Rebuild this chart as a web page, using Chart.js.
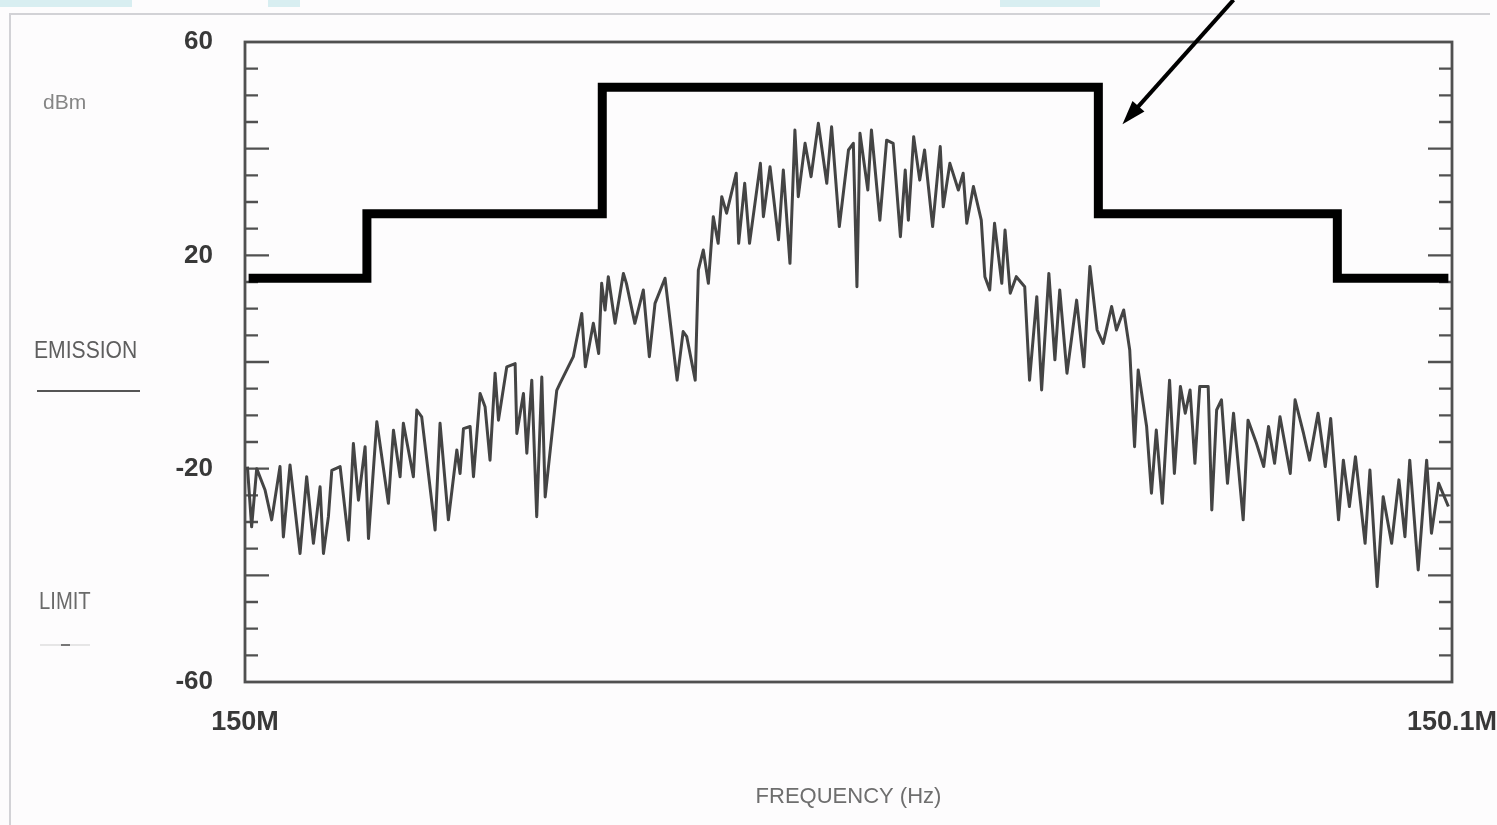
<!DOCTYPE html>
<html>
<head>
<meta charset="utf-8">
<script src="https://cdn.jsdelivr.net/npm/chart.js@4.4.1/dist/chart.umd.min.js"></script>
<style>
    html, body { margin: 0; padding: 0; background: #fdfcfd; }
    #wrap { width: 1497px; height: 825px; }
</style>
</head>
<body>
<div id="wrap"><canvas id="chartEmision" width="1497" height="825" style="width:1497px;height:825px"></canvas></div>
<script>
// ============================================
// Espectro de emision vs. mascara limite
// ============================================

// Frecuencia en kHz por encima de 150 MHz, nivel en dBm
const emisionFreq = [
    0.2, 0.55, 0.97, 1.66, 2.21, 2.9, 3.18, 3.73, 4.56, 5.11, 5.67, 6.22, 6.5, 6.91, 7.19, 7.88,
    8.57, 8.98, 9.4, 9.95, 10.23, 10.92, 11.88, 12.3, 12.85, 13.12, 13.95, 14.23, 14.64, 15.75,
    16.16, 16.85, 17.55, 17.82, 18.1, 18.65, 18.93, 19.48, 19.89, 20.3, 20.72, 21, 21.69, 22.38,
    22.52, 23.07, 23.35, 23.76, 24.17, 24.59, 24.87, 25.41, 25.83,
    26.1, 27.2, 27.9, 28.2, 28.86, 29.3, 29.55, 29.83, 30.1, 30.66, 31.35, 31.6, 32.3, 33, 33.5,
    33.97, 34.8, 35.8, 36.3, 36.6, 37.3, 37.56, 37.97, 38.39, 38.8, 39.2, 39.5, 39.9, 40.7, 40.9,
    41.4, 41.8, 42.7, 42.95, 43.5, 44.2,
    44.6, 45.15, 45.56, 45.84, 46.4, 46.9, 47.5, 48.2, 48.6, 49.24, 50, 50.4, 50.7, 50.95, 51.6,
    51.9, 52.6, 53.16, 53.7, 54.3, 54.7, 54.96, 55.4, 55.9, 56.3, 56.97, 57.6, 57.85, 58.4, 59.1, 59.5,
    59.8, 60.35, 61, 61.3, 61.7, 62.1, 62.7, 62.97, 63.4, 63.9, 64.6, 65, 65.6, 66, 66.6, 67.1,
    67.5, 68.1, 68.9, 69.5, 70, 70.6, 71.1, 71.8, 72.2, 72.8, 73.3,
    73.7, 74, 74.7, 75.1, 75.5, 76, 76.6, 77, 77.5, 77.9, 78.3, 78.7, 79.1, 79.8, 80.1, 80.5, 80.9,
    81.4, 81.9, 82.7, 83.1, 83.8, 84.4, 84.8, 85.3, 85.75, 86.6, 87, 87.7, 88.2, 88.9, 89.5, 89.95,
    90.6, 91, 91.5, 92, 92.8, 93.2, 93.8, 94.3, 95, 95.6, 96.1, 96.5, 97.2, 97.9, 98.3, 98.9, 99.7
];
const emisionNivel = [
    -19.6, -30.9, -20, -24, -29.6, -19.6, -32.8, -19.3, -35.9, -21.5, -34, -23.4, -35.9, -29, -20.3, -19.6,
    -33.4, -15.3, -25.9, -15.9, -33.1, -11.2, -26.5, -12.8, -21.5, -11.5, -21.5, -9, -10.3, -31.5,
    -11.5, -29.6, -16.5, -20.9, -12.5, -12.1, -21.5, -5.9, -8.4, -18.4, -2.1, -10.9, -0.9, -0.3,
    -13.4, -5.9, -17.1, -3.4, -29, -2.8, -25.3, -14, -5.3,
    -4, 1, 9.1, -0.9, 7.25, 1.6, 14.75, 9.75, 16, 7.25, 16.6, 14.75, 7.25, 13.5, 1,
    11, 15.7, -3.4, 5.7, 4.75, -3.4, 17.25, 21, 14.75, 27.25, 22.25, 31, 27.9, 35.4, 22.25,
    33.5, 22.25, 37.25, 27.25, 36.6, 22.9,
    36, 18.5, 43.5, 31, 41, 34.75, 44.75, 33.5, 44.1, 25.4, 39.75, 41, 14.1, 42.9, 32.25,
    43.5, 26.6, 41.6, 41, 23.5, 36, 26.6, 42.25, 34.1, 39.75, 25.4, 40.4, 29.1, 37.25, 32.25, 35.4,
    26, 32.9, 26.6, 16, 13.5, 26, 14.75, 24.75, 12.9, 16, 14.1, -3.4, 12.25, -5.25, 16.6, 0.4,
    13.5, -2.1, 11.6, -0.9, 17.9, 6, 3.5, 10.4, 6, 9.75, 2.25,
    -15.9, -1.5, -12.1, -24.6, -12.75, -26.5, -3.4, -20.9, -4.6, -9.6, -5.25, -19, -4.6, -4.6, -27.75, -9, -7.1,
    -22.75, -9.6, -29.6, -10.9, -15.25, -19.6, -12.1, -19, -10.25, -20.9, -7.1, -13.4, -18.4, -9.6, -19.6, -10.6,
    -29.6, -18.4, -27.1, -17.75, -34, -20.25, -42.1, -25.25, -34, -22.1, -32.75, -18.4, -39, -18.4, -32.1, -22.75, -27.1
];

// Mascara del limite (escalones)
const limiteFreq  = [0.3, 10.1, 10.1, 29.6, 29.6, 70.7, 70.7, 90.5, 90.5, 99.7];
const limiteNivel = [15.7, 15.7, 27.8, 27.8, 51.5, 51.5, 27.8, 27.8, 15.7, 15.7];

// Ejes
const xTickValores   = [0, 100];
const xTickEtiquetas = ['150M', '150.1M'];
const yTickValores   = [60, 20, -20, -60];

// Flecha de anotacion: cola y punta en unidades de datos
const flechaCola  = [81.9, 67.9];
const flechaPunta = [72.7, 44.6];

const FUENTE = "'Liberation Sans', Arial, sans-serif";

const decoracion = {
    id: 'decoracion',
    beforeDraw(chart) {
        const { ctx, width, height } = chart;
        ctx.save();
        ctx.fillStyle = '#fdfcfd';
        ctx.fillRect(0, 0, width, height);
        // restos de marca de agua en el borde superior
        ctx.fillStyle = '#d8eef1';
        ctx.fillRect(0, 0, 132, 7);
        ctx.fillRect(268, 0, 32, 7);
        ctx.fillRect(1000, 0, 100, 7);
        // marco exterior tenue
        ctx.strokeStyle = '#d2d2d6';
        ctx.lineWidth = 2;
        ctx.beginPath();
        ctx.moveTo(10, height);
        ctx.lineTo(10, 14);
        ctx.lineTo(1490, 14);
        ctx.stroke();
        ctx.restore();
    },
    beforeDatasetsDraw(chart) {
        const { ctx, chartArea: a, scales } = chart;
        ctx.save();
        ctx.strokeStyle = '#505050';
        ctx.lineWidth = 2.8;
        ctx.strokeRect(a.left, a.top, a.right - a.left, a.bottom - a.top);
        // marcas interiores cada 5 dB, largas cada 20 dB
        ctx.lineWidth = 2.4;
        for (let v = -55; v <= 55; v += 5) {
            const y = scales.y.getPixelForValue(v);
            const largo = (v % 20 === 0) ? 24 : 13;
            ctx.beginPath();
            ctx.moveTo(a.left, y);
            ctx.lineTo(a.left + largo, y);
            ctx.moveTo(a.right, y);
            ctx.lineTo(a.right - largo, y);
            ctx.stroke();
        }
        ctx.restore();
    },
    afterDraw(chart) {
        const { ctx, scales } = chart;
        ctx.save();
        ctx.textBaseline = 'middle';
        ctx.textAlign = 'left';

        const texto = (t, x, y, size, color, sx) => {
            ctx.save();
            ctx.translate(x, y);
            ctx.scale(sx, 1);
            ctx.font = size + 'px ' + FUENTE;
            ctx.fillStyle = color;
            ctx.fillText(t, 0, 0);
            ctx.restore();
        };
        texto('dBm', 43, 103, 21, '#858585', 1);
        texto('EMISSION', 34, 351, 24, '#5e5e5e', 0.88);
        texto('LIMIT', 39, 603, 23, '#6a6a6a', 0.88);

        // muestras de linea de la leyenda
        ctx.strokeStyle = '#555';
        ctx.lineWidth = 2;
        ctx.beginPath();
        ctx.moveTo(37, 391);
        ctx.lineTo(140, 391);
        ctx.stroke();
        ctx.strokeStyle = '#cfcfcf';
        ctx.lineWidth = 1;
        ctx.beginPath();
        ctx.moveTo(40, 645);
        ctx.lineTo(90, 645);
        ctx.stroke();
        ctx.strokeStyle = '#777';
        ctx.lineWidth = 2;
        ctx.beginPath();
        ctx.moveTo(61, 645);
        ctx.lineTo(70, 645);
        ctx.stroke();

        // flecha
        const x0 = scales.x.getPixelForValue(flechaCola[0]);
        const y0 = scales.y.getPixelForValue(flechaCola[1]);
        const x1 = scales.x.getPixelForValue(flechaPunta[0]);
        const y1 = scales.y.getPixelForValue(flechaPunta[1]);
        const ang = Math.atan2(y1 - y0, x1 - x0);
        const cab = 24;
        ctx.strokeStyle = '#000';
        ctx.fillStyle = '#000';
        ctx.lineWidth = 4;
        ctx.beginPath();
        ctx.moveTo(x0, y0);
        ctx.lineTo(x1 - Math.cos(ang) * cab * 0.8, y1 - Math.sin(ang) * cab * 0.8);
        ctx.stroke();
        ctx.beginPath();
        ctx.moveTo(x1, y1);
        ctx.lineTo(x1 - Math.cos(ang) * cab + Math.sin(ang) * 8, y1 - Math.sin(ang) * cab - Math.cos(ang) * 8);
        ctx.lineTo(x1 - Math.cos(ang) * cab - Math.sin(ang) * 8, y1 - Math.sin(ang) * cab + Math.cos(ang) * 8);
        ctx.closePath();
        ctx.fill();
        ctx.restore();
    }
};

const EmisionModule = {

    chart: null,

    init() {
        this.render();
    },

    render() {
        const ctx = document.getElementById('chartEmision');
        if (!ctx) return;

        const emision = emisionFreq.map((f, i) => ({ x: f, y: emisionNivel[i] }));
        const limite = limiteFreq.map((f, i) => ({ x: f, y: limiteNivel[i] }));

        this.chart = new Chart(ctx, {
            type: 'scatter',
            data: {
                datasets: [
                    {
                        label: 'EMISSION',
                        data: emision,
                        showLine: true,
                        borderColor: '#444',
                        borderWidth: 3,
                        borderJoinStyle: 'round',
                        pointRadius: 0,
                        tension: 0
                    },
                    {
                        label: 'LIMIT',
                        data: limite,
                        showLine: true,
                        borderColor: '#000',
                        borderWidth: 9,
                        borderJoinStyle: 'miter',
                        borderCapStyle: 'butt',
                        pointRadius: 0,
                        clip: 8
                    }
                ]
            },
            options: {
                responsive: false,
                animation: false,
                devicePixelRatio: 1,
                layout: {
                    padding: { left: 0, top: 42, right: 45, bottom: 0 }
                },
                plugins: {
                    legend: { display: false },
                    tooltip: { enabled: false }
                },
                scales: {
                    x: {
                        type: 'linear',
                        min: 0,
                        max: 100,
                        afterBuildTicks: (s) => { s.ticks = xTickValores.map(v => ({ value: v })); },
                        afterFit: (s) => { s.height = 143; s.paddingLeft = 0; s.paddingRight = 0; },
                        grid: { display: false, drawTicks: false },
                        border: { display: false },
                        ticks: {
                            autoSkip: false,
                            maxRotation: 0,
                            padding: 24,
                            color: '#383838',
                            font: { family: FUENTE, size: 27, weight: 'bold' },
                            callback: (v, i) => xTickEtiquetas[i]
                        },
                        title: {
                            display: true,
                            text: 'FREQUENCY (Hz)',
                            color: '#6e6e6e',
                            font: { family: FUENTE, size: 22 },
                            padding: { top: 0, bottom: 15 }
                        }
                    },
                    y: {
                        type: 'linear',
                        min: -60,
                        max: 60,
                        afterBuildTicks: (s) => { s.ticks = yTickValores.map(v => ({ value: v })); },
                        afterFit: (s) => { s.width = 245; s.paddingTop = 0; s.paddingBottom = 0; },
                        grid: { display: false, drawTicks: false },
                        border: { display: false },
                        ticks: {
                            autoSkip: false,
                            padding: 32,
                            color: '#383838',
                            font: { family: FUENTE, size: 26, weight: 'bold' }
                        }
                    }
                }
            },
            plugins: [decoracion]
        });
    }
};

EmisionModule.init();
</script>
</body>
</html>
